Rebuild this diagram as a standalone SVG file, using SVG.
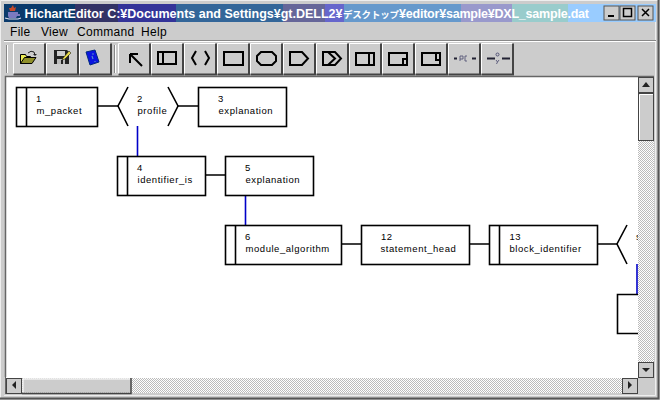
<svg xmlns="http://www.w3.org/2000/svg" width="660" height="400" viewBox="0 0 660 400">
<style>
text{font-family:"Liberation Sans","DejaVu Sans","Noto Sans CJK JP",sans-serif;fill:#000}
.n{fill:#fff;stroke:#000;stroke-width:1.6}
.l{fill:none;stroke:#000;stroke-width:1.6}
.b{fill:none;stroke:#0000c8;stroke-width:1.6}
.t{font-size:9.5px;letter-spacing:.55px}
.m{font-size:12px;letter-spacing:.3px}
.ti{font-size:12.500px;font-weight:700;fill:#fff}
.btn{fill:#ccc}
.hi{fill:none;stroke:#fff;stroke-width:1}
.ic{fill:none;stroke:#000;stroke-width:2}
.sb{fill:#ccc;stroke:#444}
</style>
<defs>
<pattern id="d" width="2" height="2" patternUnits="userSpaceOnUse"><rect width="2" height="2" fill="#fff"/><rect width="1" height="1" fill="#bbb"/><rect x="1" y="1" width="1" height="1" fill="#bbb"/></pattern>
<g id="bt"><rect class="btn" width="33" height="32"/><path d="M.5 31V.5H32" fill="none" stroke="#fff"/><path d="M32 .5V31.500H.5" fill="none" stroke="#444" stroke-width="2"/></g>
</defs>

<g id="window">
<rect width="660" height="400" fill="#ccc"/>
<path d="M.5 399V.5H659" fill="none" stroke="#eee"/>
<path d="M658.500 0V398.500H0" fill="none" stroke="#555" stroke-width="2"/>
<path d="M655.500 4V395.500H4" fill="none" stroke="#eee"/>
<rect x="4" y="4" width="71" height="18" fill="#0a3a6b"/>
<rect x="75" y="4" width="43" height="18" fill="#333366"/>
<rect x="118" y="4" width="58" height="18" fill="#333399"/>
<rect x="176" y="4" width="107" height="18" fill="#336699"/>
<rect x="283" y="4" width="42" height="18" fill="#666699"/>
<rect x="325" y="4" width="19" height="18" fill="#6666cc"/>
<rect x="344" y="4" width="117" height="18" fill="#6699cc"/>
<rect x="461" y="4" width="51" height="18" fill="#9999cc"/>
<rect x="512" y="4" width="56" height="18" fill="#99cccc"/>
<rect x="568" y="4" width="88" height="18" fill="#99ccff"/>
<path d="M13 5l1 3 2-1-1 4h-5l-1-3 2 0z" fill="#c64a2a"/><path d="M8 12h10v2h2v2h-3l-1 2h-7l-1-2z" fill="#7a7ac0"/><path d="M5 18l4 1h9l3-1" fill="none" stroke="#dde" stroke-width="1.200"/>
<text class="ti" x="24.500" y="17.500" textLength="318">HichartEditor C:¥Documents and Settings¥gt.DELL2¥</text>
<text class="ti" x="343" y="17.500" style="font-size:9.500px" textLength="56">デスクトップ</text>
<text class="ti" x="399" y="17.500" textLength="190">¥editor¥sample¥DXL_sample.dat</text>
<g transform="translate(604,6)"><rect width="15" height="14" fill="#ccc" stroke="#555"/><rect x="4" y="9" width="6" height="2"/></g>
<g transform="translate(620,6)"><rect width="15" height="14" fill="#ccc" stroke="#555"/><rect x="3.500" y="2.500" width="8" height="8" fill="none" stroke="#000" stroke-width="1.500"/></g>
<g transform="translate(638,6)"><rect width="15" height="14" fill="#ccc" stroke="#555"/><path d="M4 3l7 7M11 3l-7 7" stroke="#000" stroke-width="1.500"/></g>
<text class="m" x="10" y="36">File</text>
<text class="m" x="41" y="36">View</text>
<text class="m" x="77" y="36">Command</text>
<text class="m" x="141" y="36">Help</text>
<path d="M4 40.500H656" stroke="#888"/><path d="M4 41.500H656" stroke="#fff"/>
<path d="M6.500 45V73M114.500 45V73" stroke="#888" stroke-width="1"/><path d="M7.500 45V73M115.500 45V73" stroke="#fff" stroke-width="1"/>
</g>

<g id="toolbar">
<use href="#bt" x="13" y="43"/><use href="#bt" x="46" y="43"/><use href="#bt" x="79" y="43"/>
<use href="#bt" x="118" y="43"/><use href="#bt" x="151" y="43"/><use href="#bt" x="184" y="43"/><use href="#bt" x="217" y="43"/><use href="#bt" x="250" y="43"/><use href="#bt" x="283" y="43"/><use href="#bt" x="316" y="43"/><use href="#bt" x="349" y="43"/><use href="#bt" x="382" y="43"/><use href="#bt" x="415" y="43"/><use href="#bt" x="448" y="43"/><use href="#bt" x="481" y="43"/>
<path d="M20.500 54.500h5l1 2h4v7h-10z" fill="#eded55" stroke="#000"/><path d="M20.500 63.500l4-6h11.500l-4 6z" fill="#8f8f2a" stroke="#000"/><path d="M28 53q3-3 6-1l1 3" fill="none" stroke="#222"/><path d="M33 54h4l-2 2z" fill="#222"/>
<path d="M54 50h13l2 2v12h-15z" fill="#222"/><rect x="57" y="51" width="8" height="5" fill="#ccc"/><rect x="57" y="59" width="8" height="5" fill="#bbb"/><rect x="61" y="60" width="2" height="4" fill="#222"/><path d="M63 58l6-7 2 2-6 6-3 1z" fill="#e6d84a" stroke="#000" stroke-width=".5"/>
<path d="M86 52l9-2 4 12-9 3z" fill="#0a14e0" stroke="#002a80" stroke-width="1"/><path d="M92 54h2M92 56l1 3M95 61l0 1" stroke="#58c" stroke-width="1.200"/>
<path class="ic" d="M130 54v9M130 54h8M130.500 54.500L142 66"/>
<path class="ic" d="M158 52h18v12h-18zM163 52v12"/>
<path class="ic" d="M196 51l-4 7 4 7M205 51l4 7-4 7"/>
<rect class="ic" x="224" y="52" width="19" height="13"/>
<path class="ic" d="M261 52h11l4 4v5l-4 4h-11l-4-4v-5z"/>
<path class="ic" d="M290 52h12l6 6.500-6 6.500h-12z"/>
<path class="ic" d="M323 52h12l6 6.500-6 6.500h-12z"/><path d="M328 52l7 6.500-7 6.500" fill="none" stroke="#000" stroke-width="2"/>
<path class="ic" d="M356 53h18v12h-18zM369 53v12"/>
<path class="ic" d="M389 53h18v12h-18zM403 65v-6h4"/>
<path class="ic" d="M422 53h18v12h-18zM436 53v7h4"/>
<path d="M454 58.500h3M472 58.500h4" stroke="#223" stroke-width="2"/><path d="M460 61v-5h3v3h-3M467 56h-2v5h2" fill="none" stroke="#557" stroke-width=".9"/>
<path d="M487 58.500h8M502 58.500h8" stroke="#223" stroke-width="1.800"/><circle cx="497.500" cy="54.500" r="1.500" fill="none" stroke="#557"/><path d="M496 60l1.500 2 1.500-2M497.500 62l-1 2" fill="none" stroke="#557" stroke-width=".9"/>
</g>

<g id="canvas">
<rect x="6" y="77" width="632" height="301" fill="#fff"/>
<path d="M5.500 377V76.500H654" fill="none" stroke="#666" stroke-width="1.500"/>
</g>

<g id="connectors">
<path class="l" d="M98 106H118M177 106H198M206 175H225M342 244H361M470 244H489M598 244H617"/>
<path class="b" d="M137.500 126V156M245.500 195V225M637 264V294"/>
</g>

<g id="node1"><rect class="n" x="16.500" y="87.500" width="81" height="39"/><path class="l" d="M26.500 87.500V126.500"/><text class="t" x="36" y="102">1</text><text class="t" x="36.500" y="114">m_packet</text></g>
<g id="node2"><path class="l" d="M128 87L118 106L128 126M168 87L178 106L168 126"/><text class="t" x="137" y="102">2</text><text class="t" x="137.500" y="114">profile</text></g>
<g id="node3"><rect class="n" x="198.500" y="87.500" width="88" height="39"/><text class="t" x="218" y="102">3</text><text class="t" x="218.500" y="114">explanation</text></g>
<g id="node4"><rect class="n" x="117.500" y="156.500" width="88" height="39"/><path class="l" d="M127.500 156.500V195.500"/><text class="t" x="137" y="171">4</text><text class="t" x="137.500" y="183">identifier_is</text></g>
<g id="node5"><rect class="n" x="225.500" y="156.500" width="88" height="39"/><text class="t" x="245" y="171">5</text><text class="t" x="245.500" y="183">explanation</text></g>
<g id="node6"><rect class="n" x="225.500" y="225.500" width="116" height="39"/><path class="l" d="M235.500 225.500V264.500"/><text class="t" x="245" y="240">6</text><text class="t" x="245.500" y="252">module_algorithm</text></g>
<g id="node12"><rect class="n" x="361.500" y="225.500" width="108" height="39"/><text class="t" x="381" y="240">12</text><text class="t" x="380.500" y="252">statement_head</text></g>
<g id="node13"><rect class="n" x="489.500" y="225.500" width="108" height="39"/><path class="l" d="M499.500 225.500V264.500"/><text class="t" x="509.500" y="240">13</text><text class="t" x="509.500" y="252">block_identifier</text></g>
<g id="node14"><path class="l" d="M627 225L617 244L627 264"/><text class="t" x="636" y="240">s</text></g>
<g id="node15"><path class="l" d="M638 294.500H617.500V333.500H638"/></g>

<g id="scrollbars">
<rect x="638" y="77" width="16" height="300" fill="url(#d)"/>
<rect x="6" y="378" width="632" height="15" fill="url(#d)"/>
<rect class="sb" x="638.500" y="77.500" width="15" height="15"/><path d="M646 82l4 5h-8z" fill="#222"/>
<rect class="sb" x="638.500" y="93.500" width="15" height="47"/><path d="M639.500 140V94.500H653" fill="none" stroke="#fff"/>
<rect class="sb" x="638.500" y="362.500" width="15" height="15"/><path d="M642 368h8l-4 4z" fill="#222"/>
<rect class="sb" x="6.500" y="378.500" width="15" height="15"/><path d="M12 385l4-4v8z" fill="#222"/>
<rect x="22.500" y="378.500" width="108" height="14" fill="#ccc"/><path d="M23 392V379H130" fill="none" stroke="#fff"/><path d="M131 378V393.500H22" fill="none" stroke="#444" stroke-width="1.500"/>
<rect class="sb" x="622.500" y="378.500" width="15" height="15"/><path d="M628 381l4 4-4 4z" fill="#222"/>
<path d="M5.500 377V394" fill="none" stroke="#666"/>
</g>
</svg>
